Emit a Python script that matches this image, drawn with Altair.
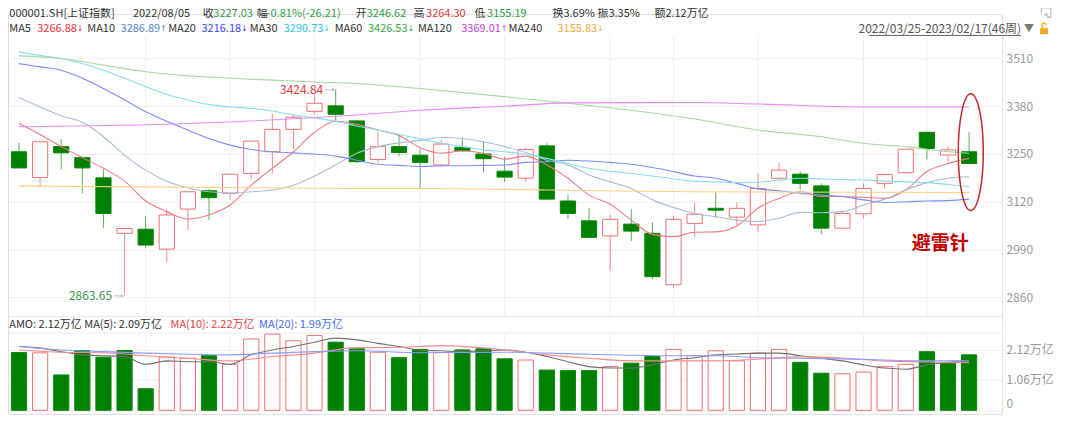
import altair as alt
import pandas as pd

# ---------------- data ----------------
weeks = ["2022/03/25", "2022/04/01", "2022/04/08", "2022/04/15", "2022/04/22", "2022/04/29",
         "2022/05/06", "2022/05/13", "2022/05/20", "2022/05/27", "2022/06/02", "2022/06/10",
         "2022/06/17", "2022/06/24", "2022/07/01", "2022/07/08", "2022/07/15", "2022/07/22",
         "2022/07/29", "2022/08/05", "2022/08/12", "2022/08/19", "2022/08/26", "2022/09/02",
         "2022/09/09", "2022/09/16", "2022/09/23", "2022/09/30", "2022/10/14", "2022/10/21",
         "2022/10/28", "2022/11/04", "2022/11/11", "2022/11/18", "2022/11/25", "2022/12/02",
         "2022/12/09", "2022/12/16", "2022/12/23", "2022/12/30", "2023/01/06", "2023/01/13",
         "2023/01/20", "2023/02/03", "2023/02/10", "2023/02/17"]

opens = [3256, 3186, 3270, 3240, 3185, 3034, 3045, 2991, 3100, 3150, 3143, 3197, 3256, 3317, 3366,
         3381, 3340, 3235, 3270, 3246.62, 3220, 3268, 3250, 3203, 3184, 3272, 3122, 3068, 3027, 3059,
         3034, 2894, 3061, 3102, 3078, 3057, 3184, 3195, 3163, 3048, 3087, 3170, 3199, 3309, 3247, 3256]
highs = [3280, 3284, 3290, 3242, 3208, 3048, 3081, 3100, 3148, 3155, 3196, 3287, 3360, 3356, 3410,
         3424.84, 3342, 3309, 3303, 3264.30, 3288, 3295, 3283, 3242, 3267, 3279, 3138, 3102, 3084, 3100,
         3064, 3081, 3118, 3146, 3118, 3197, 3226, 3202, 3170, 3095, 3170, 3197, 3265, 3310, 3270, 3309]
lows = [3212, 3161, 3208, 3143, 3049, 2863.65, 2993, 2957, 3043, 3070, 3125, 3181, 3197, 3263, 3358,
        3338, 3226, 3226, 3244, 3155.19, 3215, 3256, 3199, 3174, 3173, 3125, 3073, 3021, 2932, 3013,
        2909, 2886, 3023, 3076, 3057, 3037, 3179, 3152, 3032, 3046, 3075, 3155, 3197, 3235, 3227, 3224]
closes = [3212, 3283, 3253, 3212, 3088, 3047, 3002, 3084, 3147, 3131, 3195, 3285, 3317, 3350, 3388,
          3358, 3229, 3270, 3254, 3227.03, 3277, 3259, 3237, 3187, 3262, 3127, 3088, 3023, 3072, 3040,
          2916, 3072, 3086, 3097, 3102, 3156, 3206, 3170, 3048, 3088, 3156, 3194, 3263, 3265, 3261, 3224]

# turnover, 万亿
volumes = [2.01, 2.00, 1.23, 2.08, 1.85, 2.08, 0.75, 1.85, 1.81, 1.90,
           1.60, 2.48, 2.65, 2.42, 2.60, 2.37, 2.14, 2.02, 1.83, 2.12,
           2.01, 2.10, 2.14, 1.79, 1.75, 1.40, 1.38, 1.38, 1.52, 1.64,
           1.87, 2.12, 1.90, 2.07, 1.72, 1.99, 2.12, 1.67, 1.29, 1.27,
           1.33, 1.52, 1.60, 2.04, 1.64, 1.93]
vol_dir = ["down", "up", "down", "down", "down", "down", "down", "up", "up", "down",
           "up", "up", "up", "up", "up", "down", "down", "up", "down", "down",
           "up", "down", "down", "down", "up", "down", "down", "down", "up", "down",
           "down", "up", "up", "up", "up", "up", "up", "down", "down", "up",
           "up", "up", "up", "down", "down", "down"]

ma5 = [3333, 3303, 3270, 3240, 3211, 3176, 3122, 3093, 3073, 3084, 3111, 3165, 3211, 3256, 3309,
       3339, 3331, 3315, 3300, 3267, 3252, 3258, 3252, 3236, 3244, 3220, 3184, 3138, 3113, 3070,
       3031, 3025, 3037, 3038, 3054, 3102, 3129, 3147, 3134, 3134, 3132, 3129, 3152, 3202, 3224, 3238]
ma10 = [3404, 3378, 3354, 3336, 3297, 3247, 3206, 3176, 3158, 3147, 3144, 3147, 3152, 3165, 3190,
        3220, 3252, 3270, 3280, 3287, 3295, 3292, 3283, 3270, 3254, 3233, 3220, 3193, 3174, 3156,
        3125, 3104, 3088, 3079, 3070, 3066, 3075, 3091, 3090, 3093, 3111, 3127, 3152, 3172, 3184, 3188]
ma20 = [3496, 3487, 3478, 3456, 3428, 3397, 3365, 3339, 3315, 3292, 3274, 3262, 3256, 3253, 3250,
        3244, 3233, 3222, 3219, 3216, 3218, 3218, 3219, 3220, 3227, 3229, 3233, 3231, 3227, 3222,
        3213, 3202, 3190, 3184, 3170, 3155, 3150, 3143, 3138, 3134, 3125, 3118, 3120, 3122, 3123, 3127]
ma30 = [3528, 3518, 3510, 3496, 3478, 3456, 3433, 3412, 3397, 3385, 3378, 3374, 3367, 3356, 3348,
        3339, 3326, 3315, 3303, 3291, 3279, 3270, 3261, 3256, 3249, 3238, 3224, 3211, 3203, 3197,
        3190, 3182, 3176, 3174, 3172, 3173, 3179, 3184, 3182, 3180, 3179, 3176, 3174, 3172, 3167, 3161]
ma60_i = [1, 3, 5, 7, 9, 11, 13, 15, 17, 20, 24, 27, 30, 33, 36, 39, 41, 43, 45, 46]
ma60_v = [3517, 3510, 3492, 3474, 3463, 3456, 3451, 3446, 3442, 3428, 3406, 3388, 3369, 3345,
          3315, 3297, 3279, 3270, 3256, 3252]
ma120_i = [1, 9, 17, 20, 24, 27, 33, 36, 41, 46]
ma120_v = [3324, 3333, 3356, 3369, 3380, 3389, 3390, 3386, 3378, 3378]
ma240_i = [1, 17, 20, 26, 33, 46]
ma240_v = [3163, 3156, 3156, 3152, 3147, 3145]

vma5 = [2.22, 2.17, 2.04, 1.93, 1.90, 1.87, 1.60, 1.72, 1.69, 1.69, 1.60, 1.93, 2.10, 2.22, 2.37,
        2.51, 2.45, 2.33, 2.22, 2.09, 2.07, 2.04, 2.07, 2.10, 2.02, 1.87, 1.69, 1.52, 1.47, 1.47,
        1.58, 1.75, 1.83, 1.93, 1.96, 1.99, 1.99, 1.90, 1.81, 1.72, 1.58, 1.47, 1.43, 1.58, 1.67, 1.75]
vma10_i = [1, 3, 5, 7, 9, 11, 13, 15, 17, 18, 20, 21, 24, 26, 28, 30, 32, 34, 36, 38, 40, 42, 44, 46]
vma10_v = [2.10, 2.02, 2.00, 1.90, 1.81, 1.72, 1.87, 1.99, 2.18, 2.18, 2.22, 2.25, 2.10, 1.93,
           1.81, 1.72, 1.72, 1.72, 1.78, 1.86, 1.82, 1.72, 1.68, 1.66]
vma20_i = [1, 3, 5, 7, 9, 11, 13, 15, 17, 20, 24, 28, 32, 34, 36, 40, 44, 46]
vma20_v = [2.22, 2.10, 2.04, 1.99, 1.95, 1.93, 1.99, 2.04, 2.07, 2.00, 2.02, 1.95, 1.90, 1.90,
           1.83, 1.79, 1.72, 1.72]

grid_weeks = ["2022/05/06", "2022/06/02", "2022/07/01", "2022/08/05", "2022/09/02",
              "2022/10/14", "2022/11/04", "2022/12/02", "2023/01/06", "2023/02/03"]
price_ticks = [2860, 2990, 3120, 3250, 3380, 3510]
vol_ticks = [0, 1.06, 2.12]

hdr1_text = ["000001.SH[上证指数]", "2022/08/05", "收", "3227.03", "幅", "-0.81%(-26.21)",
             "开", "3246.62", "高", "3264.30", "低", "3155.19", "换", "3.69%", "振", "3.35%",
             "额", "2.12万亿"]
hdr2_text = ["MA5", "3266.88", "MA10", "3286.89", "MA20", "3216.18", "MA30", "3290.73",
             "MA60", "3426.53", "MA120", "3369.01", "MA240", "3155.83"]
hdr2_arrows = ["↓", "↑", "↓", "↓", "↓", "↑", "↓"]
amo_text = ["AMO: 2.12万亿 MA(5): 2.09万亿", "MA(10): 2.22万亿", "MA(20): 1.99万亿"]
range_text = "2022/03/25-2023/02/17(46周)"
flag_text = "避雷针"

# ---------------- layout / style ----------------
FONT = "Noto Sans CJK SC"
OX, OY = 8, 14          # page offset of the chart origin (margin + top padding)
PAD_T = 6
W, H = 995, 400
DARK = "#333333"
GREEN_T = "#2f9e44"
RED_T = "#e23b3b"
MA_COL = ["#e8323c", "#4f86c6", "#2f4cf5", "#2bc4dd", "#37a84a", "#c43fd8", "#f2a93b"]


def px(v):
    return v - OX


def py(v):
    return v - OY


hdr1_x = [9.3, 133, 203, 213.5, 257, 267, 356, 367, 414, 426.5, 475, 487.5,
          553, 564, 598, 609, 655, 666]
hdr1_c = [DARK, DARK, DARK, GREEN_T, DARK, GREEN_T, DARK, GREEN_T, DARK, RED_T, DARK, GREEN_T,
          DARK, DARK, DARK, DARK, DARK, DARK]
hdr2_x = [9.3, 37.3, 87.3, 120.7, 168.3, 201.7, 250, 284, 335, 368.3, 418.3, 461.7, 509, 558]
hdr2_c = [DARK, MA_COL[0], DARK, MA_COL[1], DARK, MA_COL[2], DARK, MA_COL[3],
          DARK, MA_COL[4], DARK, MA_COL[5], DARK, MA_COL[6]]
arrow_x = [x + 39.5 for x in hdr2_x[1::2]]
amo_x = [9.3, 170.7, 259.3]
amo_c = [DARK, "#e8404a", "#4a6cf7"]

XS = alt.Scale(domain=[0.4794, 47.5617], nice=False, zero=False)


def pscale():
    return alt.Scale(domain=[2860, 3510], range=[py(297.3), py(58.3)], nice=False, zero=False)


def vscale():
    return alt.Scale(domain=[0, 2.12], range=[py(410.5), py(349.5)], nice=False, zero=False)


idx = list(range(1, len(weeks) + 1))
candles = pd.DataFrame({"i": idx, "week": weeks, "open": opens, "high": highs,
                        "low": lows, "close": closes})
vol = pd.DataFrame({"i": idx, "vol": volumes, "vdir": vol_dir})

rows = []
for name, vals in [("MA5", ma5), ("MA10", ma10), ("MA20", ma20), ("MA30", ma30)]:
    for k, v in enumerate(vals):
        rows.append({"ma": name, "i": k + 1, "v": v})
for name, ii, vv in [("MA60", ma60_i, ma60_v), ("MA120", ma120_i, ma120_v), ("MA240", ma240_i, ma240_v)]:
    for a, b in zip(ii, vv):
        rows.append({"ma": name, "i": a, "v": b})
ma_df = pd.DataFrame(rows)

vrows = [{"ma": "MA5", "i": k + 1, "v": v} for k, v in enumerate(vma5)]
vrows += [{"ma": "MA10", "i": a, "v": b} for a, b in zip(vma10_i, vma10_v)]
vrows += [{"ma": "MA20", "i": a, "v": b} for a, b in zip(vma20_i, vma20_v)]
vma_df = pd.DataFrame(vrows)

grid_df = pd.DataFrame({"i": [weeks.index(w) + 1 for w in grid_weeks]})
one = pd.DataFrame({"a": [0]})

# ---------------- layers ----------------
vgrid_p = alt.Chart(grid_df).mark_rule(color="#efefef", strokeWidth=1).encode(
    x=alt.X("i:Q", scale=XS, axis=None), y=alt.value(py(35)), y2=alt.value(py(316.7)))
vgrid_v = alt.Chart(grid_df).mark_rule(color="#efefef", strokeWidth=1).encode(
    x=alt.X("i:Q", scale=XS, axis=None), y=alt.value(py(333.3)), y2=alt.value(py(410.5)))
sep1 = alt.Chart(one).mark_rule(color="#e8e8e8").encode(
    x=alt.value(0), x2=alt.value(W), y=alt.value(py(316.7)))
sep2 = alt.Chart(one).mark_rule(color="#eeeeee").encode(
    x=alt.value(0), x2=alt.value(W), y=alt.value(py(333.3)))
leftbar = alt.Chart(one).mark_rule(color="#d4d4d4", strokeWidth=2).encode(
    x=alt.value(0), y=alt.value(py(60)), y2=alt.value(py(117)))

price_axis = alt.Axis(orient="right", values=price_ticks, format="d", grid=True,
                      gridColor="#efefef", ticks=False, domain=False, labelColor="#999999",
                      labelFontSize=12, labelFont=FONT, labelPadding=4, title=None)

base = alt.Chart(candles).transform_calculate(
    dir="datum.close >= datum.open ? 'up' : 'down'",
    x1="datum.i - 0.36", x2="datum.i + 0.36")

wick = base.mark_rule(strokeWidth=1).encode(
    x=alt.X("i:Q", scale=XS, axis=None),
    y=alt.Y("low:Q", scale=pscale(), axis=price_axis),
    y2="high:Q",
    color=alt.Color("dir:N", scale=alt.Scale(domain=["up", "down"], range=["#f48a8a", "#5aae5a"]),
                    legend=None))
body = base.mark_rect(strokeWidth=1).encode(
    x=alt.X("x1:Q", scale=XS, axis=None), x2="x2:Q",
    y=alt.Y("open:Q", scale=pscale(), axis=None), y2="close:Q",
    fill=alt.Fill("dir:N", scale=alt.Scale(domain=["up", "down"], range=["#ffffff", "#008000"]),
                  legend=None),
    stroke=alt.Stroke("dir:N", scale=alt.Scale(domain=["up", "down"], range=["#f27070", "#0a870a"]),
                      legend=None))

ma_names = ["MA5", "MA10", "MA20", "MA30", "MA60", "MA120", "MA240"]
ma_cols = ["#f07b86", "#a8bcd8", "#7d8cf5", "#86dded", "#a3d8a5", "#e68cf2", "#fbd083"]
ma_lines = alt.Chart(ma_df).mark_line(strokeWidth=1.1, interpolate="monotone").encode(
    x=alt.X("i:Q", scale=XS, axis=None),
    y=alt.Y("v:Q", scale=pscale(), axis=None),
    color=alt.Color("ma:N", scale=alt.Scale(domain=ma_names, range=ma_cols), legend=None),
    order="i:Q")

hi_k = highs.index(max(highs))
lo_k = lows.index(min(lows))
ann_hi = pd.DataFrame({"i": [hi_k + 1], "p": [highs[hi_k]], "label": [f"{highs[hi_k]:.2f}"]})
ann_lo = pd.DataFrame({"i": [lo_k + 1], "p": [lows[lo_k]], "label": [f"{lows[lo_k]:.2f}"]})


def ann_layers(df, color):
    t = alt.Chart(df).mark_text(align="right", baseline="middle", dx=-12.5, font=FONT,
                                fontSize=12, color=color).encode(
        x=alt.X("i:Q", scale=XS, axis=None), y=alt.Y("p:Q", scale=pscale(), axis=None),
        text="label:N")
    arr = alt.Chart(df).transform_calculate(xa="datum.i - 0.5", xb="datum.i - 0.08").mark_rule(
        color="#a9c0d8", strokeWidth=1).encode(
        x=alt.X("xa:Q", scale=XS, axis=None), x2="xb:Q",
        y=alt.Y("p:Q", scale=pscale(), axis=None))
    head = alt.Chart(df).transform_calculate(xb="datum.i - 0.1").mark_point(
        shape="triangle-right", filled=True, size=12, color="#a9c0d8", opacity=1).encode(
        x=alt.X("xb:Q", scale=XS, axis=None), y=alt.Y("p:Q", scale=pscale(), axis=None))
    return [arr, head, t]


ell_pos = pd.DataFrame({"i": [46.08], "p": [3255]})
ellipse = alt.Chart(ell_pos).mark_point(
    shape="M-0.214,0A0.214,1 0 1,0 0.214,0A0.214,1 0 1,0 -0.214,0Z",
    size=13689, filled=False, stroke="#c3282e", strokeWidth=1.5, opacity=1).encode(
    x=alt.X("i:Q", scale=XS, axis=None), y=alt.Y("p:Q", scale=pscale(), axis=None))
flag_pos = pd.DataFrame({"i": [44.63], "p": [3004], "t": [flag_text]})
flag = alt.Chart(flag_pos).mark_text(font=FONT, fontSize=19, fontWeight="bold", color="#c00000",
                                     baseline="middle", align="center").encode(
    x=alt.X("i:Q", scale=XS, axis=None), y=alt.Y("p:Q", scale=pscale(), axis=None), text="t:N")

vol_axis = alt.Axis(orient="right", values=vol_ticks, grid=True, gridColor="#efefef",
                    ticks=False, domain=False, labelColor="#999999", labelFontSize=12,
                    labelFont=FONT, labelPadding=4, title=None,
                    labelExpr="datum.value == 0 ? '0' : format(datum.value, '.2f') + '万亿'",
                    labelBaseline={"condition": {"test": "datum.value == 0", "value": "bottom"},
                                   "value": "middle"})
vbars = alt.Chart(vol).transform_calculate(
    x1="datum.i - 0.36", x2="datum.i + 0.36", base="0").mark_rect(strokeWidth=1).encode(
    x=alt.X("x1:Q", scale=XS, axis=None), x2="x2:Q",
    y=alt.Y("vol:Q", scale=vscale(), axis=vol_axis), y2="base:Q",
    fill=alt.Fill("vdir:N", scale=alt.Scale(domain=["up", "down"], range=["#ffffff", "#008000"]),
                  legend=None),
    stroke=alt.Stroke("vdir:N", scale=alt.Scale(domain=["up", "down"], range=["#f27070", "#0a870a"]),
                      legend=None))
vma_lines = alt.Chart(vma_df).mark_line(strokeWidth=1.1, interpolate="monotone").encode(
    x=alt.X("i:Q", scale=XS, axis=None),
    y=alt.Y("v:Q", scale=vscale(), axis=None),
    color=alt.Color("ma:N", scale=alt.Scale(domain=["MA5", "MA10", "MA20"],
                                            range=["#707070", "#f28c8c", "#8c9bff"]), legend=None),
    order="i:Q")

# text rows (pixel positioned)
LINE1_Y, LINE2_Y, AMO_Y = 13.6, 28.6, 325
txt = pd.DataFrame({
    "t": hdr1_text + hdr2_text + amo_text,
    "px": [px(x) for x in hdr1_x + hdr2_x + amo_x],
    "py": [py(LINE1_Y)] * len(hdr1_text) + [py(LINE2_Y)] * len(hdr2_text) + [py(AMO_Y)] * len(amo_text),
    "c": hdr1_c + hdr2_c + amo_c})
texts = alt.Chart(txt).mark_text(align="left", baseline="middle", font=FONT, fontSize=11).encode(
    x=alt.X("px:Q", scale=None), y=alt.Y("py:Q", scale=None), text="t:N",
    color=alt.Color("c:N", scale=None, legend=None))
arr_df = pd.DataFrame({"t": hdr2_arrows, "px": [px(x) for x in arrow_x],
                       "py": [py(LINE2_Y)] * len(hdr2_arrows), "c": MA_COL})
arrows = alt.Chart(arr_df).mark_text(align="left", baseline="middle", font="DejaVu Sans",
                                     fontSize=8).encode(
    x=alt.X("px:Q", scale=None), y=alt.Y("py:Q", scale=None), text="t:N",
    color=alt.Color("c:N", scale=None, legend=None))

rng = alt.Chart(pd.DataFrame({"t": [range_text]})).mark_text(
    align="right", baseline="middle", font=FONT, fontSize=12, color="#555555").encode(
    x=alt.value(px(1022)), y=alt.value(py(LINE2_Y)), text="t:N")
rng_line = alt.Chart(one).mark_rule(color="#666666", strokeWidth=1).encode(
    x=alt.value(px(870)), x2=alt.value(px(1022)), y=alt.value(py(35.3)))
tri = alt.Chart(pd.DataFrame({"t": ["▼"]})).mark_text(
    align="left", baseline="middle", fontSize=10, color="#777777").encode(
    x=alt.value(px(1025)), y=alt.value(py(28.8)), text="t:N")
lock_body = alt.Chart(one).mark_rect(color="#f5a623").encode(
    x=alt.value(px(1041)), x2=alt.value(px(1049)), y=alt.value(py(28)), y2=alt.value(py(34)))
lock_arc = alt.Chart(one).mark_point(
    shape="M-0.7,1L-0.7,-0.1A0.7,0.7 0 0,1 0.7,-0.1", size=30, filled=False,
    stroke="#f5a623", strokeWidth=1.4, opacity=1).encode(
    x=alt.value(px(1045)), y=alt.value(py(25)))
corner_icon = alt.Chart(one).mark_point(
    shape="M-1,0.2L-1,-1L1,-1L1,1L0.2,1M-0.2,0.2L0.6,0.9M-0.2,0.2L0.3,0.2M-0.2,0.2L-0.2,0.7",
    size=90, filled=False, stroke="#bdbdbd", strokeWidth=1.2, opacity=1).encode(
    x=alt.value(px(1047)), y=alt.value(py(12.5)))

layers = [vgrid_p, vgrid_v, sep1, sep2, leftbar, wick, body, ma_lines]
layers += ann_layers(ann_hi, "#e0393e")
layers += ann_layers(ann_lo, "#3d9a4a")
layers += [ellipse, flag, vbars, vma_lines, texts, arrows, rng, rng_line, tri, lock_body,
           lock_arc, corner_icon]

chart = alt.layer(*layers).resolve_scale(
    x="independent", y="independent", color="independent", fill="independent",
    stroke="independent").properties(
    width=W, height=H,
    autosize=alt.AutoSizeParams(type="none"),
    padding={"left": 0, "top": PAD_T, "right": 70, "bottom": 6},
).configure_view(stroke=None).configure(font=FONT)

chart.save("out.html", embed_options={"renderer": "svg", "actions": False})
